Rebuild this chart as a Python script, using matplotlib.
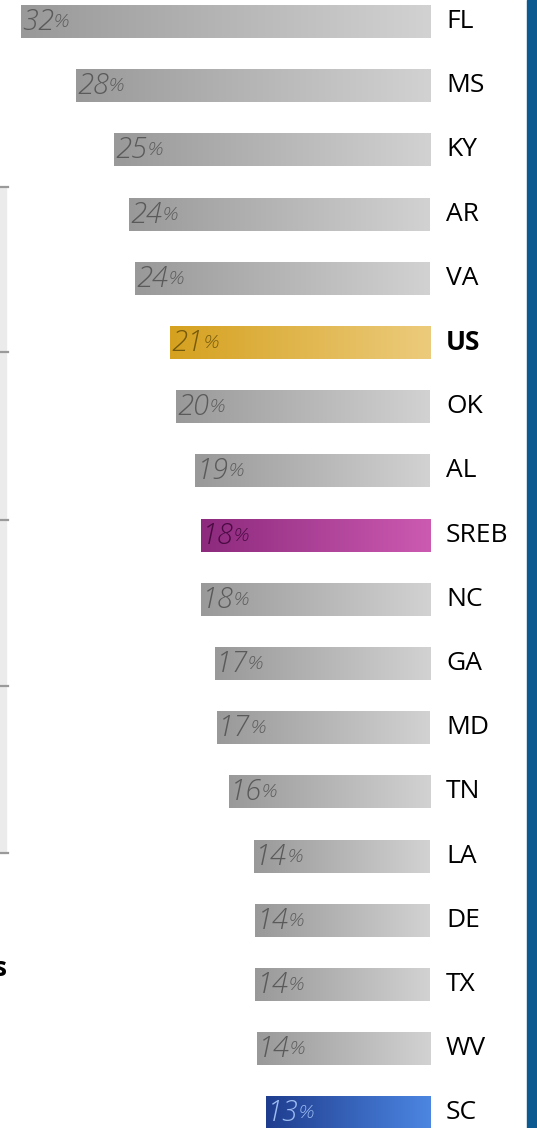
import numpy as np
import matplotlib.pyplot as plt
from matplotlib.colors import LinearSegmentedColormap
from matplotlib.patches import Rectangle
from matplotlib.lines import Line2D

# data
states = ['FL', 'MS', 'KY', 'AR', 'VA', 'US', 'OK', 'AL', 'SREB',
          'NC', 'GA', 'MD', 'TN', 'LA', 'DE', 'TX', 'WV', 'SC']
values = [32.1, 27.8, 24.8, 23.6, 23.1, 20.4, 19.9, 18.4, 18.0,
          18.0, 16.9, 16.7, 15.8, 13.8, 13.7, 13.7, 13.6, 12.9]
labels = ['32', '28', '25', '24', '24', '21', '20', '19', '18',
          '18', '17', '17', '16', '14', '14', '14', '14', '13']

# colour per bar: (left, right, label colour)
gray = ('#999999', '#d2d2d2', '#5a5a5a')
special = {
    'US': ('#d5a11f', '#eccb7c', '#765a0c'),
    'SREB': ('#8d2a7d', '#cc5ab1', '#4a0a42'),
    'SC': ('#1f3d8e', '#4c86e2', '#9dbdf2'),
}

fig = plt.figure(figsize=(5.37, 11.28), dpi=100)
ax = fig.add_axes([0, 0, 430 / 537, 1])

y = np.arange(len(states))
bars = ax.barh(y, values, height=0.515, facecolor='none', edgecolor='none')

grad = np.linspace(0, 1, 256).reshape(1, -1)
for i, (b, st) in enumerate(zip(bars, states)):
    c0, c1, tc = special.get(st, gray)
    cmap = LinearSegmentedColormap.from_list('g' + st, [c0, c1])
    x0 = b.get_x() + b.get_width()
    im = ax.imshow(grad, cmap=cmap, aspect='auto',
                   extent=(x0, 0, b.get_y() + b.get_height(), b.get_y()),
                   interpolation='bicubic', zorder=2)
    im.set_clip_path(b)

    t = ax.annotate(labels[i], xy=(values[i], i), xytext=(1, -0.5),
                    textcoords='offset points', ha='left', va='center',
                    fontsize=21, style='italic', fontweight='light',
                    family='Open Sans', color=tc, zorder=3)
    ax.annotate('%', xy=(1, 0.2), xycoords=t, ha='left', va='bottom',
                fontsize=14, style='italic', fontweight='light',
                family='Open Sans', color=tc, zorder=3)

    ax.text(446 / 430, i, st, transform=ax.get_yaxis_transform(),
            ha='left', va='center', fontsize=19, family='Open Sans',
            fontweight='bold' if st == 'US' else 'normal',
            color='black', clip_on=False)

ax.set_xlim(430 / 12.75, 0)
ax.set_ylim((1128 - 21.5) / 64.2, -21.5 / 64.2)
ax.axis('off')

# right blue stripe
fig.add_artist(Rectangle((527 / 537, 0), 10 / 537, 1,
                         transform=fig.transFigure, color='#0c5a8f'))

# left neighbour panel remnants
H = 1128
fig.add_artist(Rectangle((0, 1 - 853 / H), 6 / 537, (853 - 187) / H,
                         transform=fig.transFigure, color='#ebebeb'))
for ty in [187, 352, 520, 686, 853]:
    fig.add_artist(Line2D([0, 8 / 537], [1 - ty / H, 1 - ty / H],
                          transform=fig.transFigure, color='#9a9a9a', lw=1.6))
fig.text(7 / 537, 1 - 968 / H, 's', ha='right', va='center',
         fontsize=19, fontweight='bold', family='Open Sans')

fig.savefig('out.png', dpi=100)
